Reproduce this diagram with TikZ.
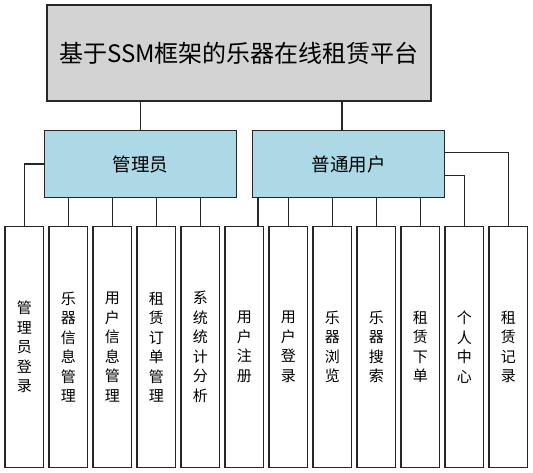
\documentclass[tikz,border=0pt]{standalone}
\usepackage{fontspec}
\setmainfont{Noto Sans CJK SC}
\definecolor{rolecol}{HTML}{ADD8E6}
\definecolor{titlecol}{HTML}{D3D3D3}

\begin{document}
\begin{tikzpicture}[x=1pt,y=-1pt,
  box/.style={draw=black!85,line width=1.1pt,inner sep=0pt,align=center},
  titlebox/.style={box,fill=titlecol,minimum width=384pt,minimum height=96pt,font=\fontsize{24}{28}\selectfont},
  rolebox/.style={box,fill=rolecol,minimum width=192pt,minimum height=67pt,font=\fontsize{18.5}{22}\selectfont},
  leafbox/.style={box,fill=white,minimum width=38.5pt,minimum height=240.5pt,font=\fontsize{15}{19.5}\selectfont},
  link/.style={draw=black!85,line width=1.1pt}]
  \useasboundingbox (0,0) rectangle (533,473);

  % nivelul de sus
  \node[titlebox] (top) at (239,53) {基于SSM框架的乐器在线租赁平台};
  \node[rolebox] (admin) at (140.5,164) {管理员};
  \node[rolebox] (user) at (348.5,164) {普通用户};

  % modulele
  \node[leafbox] (a1) at (24.25,347) {管\\理\\员\\登\\录};
  \node[leafbox] (a2) at (68.25,347) {乐\\器\\信\\息\\管\\理};
  \node[leafbox] (a3) at (112.25,347) {用\\户\\信\\息\\管\\理};
  \node[leafbox] (a4) at (156.25,347) {租\\赁\\订\\单\\管\\理};
  \node[leafbox] (a5) at (200.25,347) {系\\统\\统\\计\\分\\析};
  \node[leafbox] (u1) at (244.25,347) {用\\户\\注\\册};
  \node[leafbox] (u2) at (288.25,347) {用\\户\\登\\录};
  \node[leafbox] (u3) at (332.25,347) {乐\\器\\浏\\览};
  \node[leafbox] (u4) at (376.25,347) {乐\\器\\搜\\索};
  \node[leafbox] (u5) at (420.25,347) {租\\赁\\下\\单};
  \node[leafbox] (u6) at (464.25,347) {个\\人\\中\\心};
  \node[leafbox] (u7) at (508.25,347) {租\\赁\\记\\录};

  % legaturi
  \draw[link] (admin.north) -- (admin.north |- top.south);
  \coordinate (userUp) at ([xshift=-6.5pt]user.north);
  \draw[link] (userUp) -- (userUp |- top.south);

  \draw[link] (admin.west) -| (a1.north);
  \foreach \leaf in {a2,a3,a4,a5}
    \draw[link] (\leaf.north) -- (\leaf.north |- admin.south);

  \coordinate (userLeft) at ([xshift=6pt]user.south west);
  \draw[link] (userLeft) -- (userLeft |- u1.north);
  \foreach \leaf in {u2,u3,u4,u5}
    \draw[link] (\leaf.north) -- (\leaf.north |- user.south);
  \draw[link] ([yshift=-11.2pt]user.east) -| (u6.north);
  \draw[link] ([yshift=11.2pt]user.east) -| (u7.north);
\end{tikzpicture}
\end{document}
